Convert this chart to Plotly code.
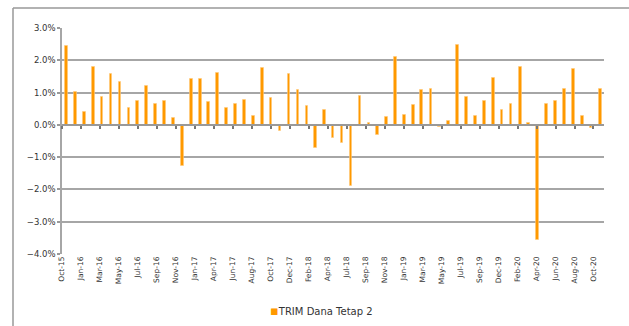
import calendar
import datetime as dt

import plotly.graph_objects as go

# Monthly returns of the fund, Oct-2015 .. Oct-2020 (percent)
series_name = "TRIM Dana Tetap 2"
returns_pct = [
    2.44, 1.02, 0.39, 1.78, 0.86, 1.58, 1.33, 0.51, 0.75, 1.21,
    0.64, 0.74, 0.20, -1.27, 1.43, 1.43, 0.71, 1.62, 0.51, 0.64,
    0.77, 0.26, 1.76, 0.84, -0.18, 1.56, 1.07, 0.57, -0.73, 0.47,
    -0.41, -0.55, -1.89, 0.88, 0.05, -0.30, 0.23, 2.10, 0.31, 0.61,
    1.07, 1.12, -0.08, 0.13, 2.47, 0.86, 0.28, 0.75, 1.44, 0.45,
    0.64, 1.79, 0.05, -3.56, 0.64, 0.75, 1.12, 1.74, 0.26, -0.10,
    1.12,
]

# Category labels shown along the date axis
tick_labels = [
    "Oct-15", "Jan-16", "Mar-16", "May-16", "Jul-16", "Sep-16", "Nov-16",
    "Jan-17", "Apr-17", "Jun-17", "Aug-17", "Oct-17", "Dec-17", "Feb-18",
    "Apr-18", "Jul-18", "Sep-18", "Nov-18", "Jan-19", "Mar-19", "May-19",
    "Jul-19", "Sep-19", "Dec-19", "Feb-20", "Apr-20", "Jun-20", "Aug-20",
    "Oct-20",
]
y_ticks = [-0.04, -0.03, -0.02, -0.01, 0.0, 0.01, 0.02, 0.03]

ORANGE = "#FF9900"
GRID = "#a6a6a6"


def month_end(year, month):
    return dt.date(year, month, calendar.monthrange(year, month)[1])


# month-end observation dates
dates = []
y, m = 2015, 10
for _ in returns_pct:
    dates.append(month_end(y, m))
    m += 1
    if m > 12:
        y, m = y + 1, 1

values = [v / 100.0 for v in returns_pct]

# date axis: ticks every 65 days from the axis origin
axis_start = dates[0] - dt.timedelta(days=16)
axis_end = axis_start + dt.timedelta(days=1856)
tick_dates = [axis_start + dt.timedelta(days=65 * k) for k in range(len(tick_labels))]
x_range = [axis_start.isoformat(), axis_end.isoformat()]
bar_width_ms = 9 * 24 * 3600 * 1000

fig = go.Figure()
fig.add_trace(
    go.Bar(
        x=dates,
        y=values,
        width=bar_width_ms,
        marker=dict(color=ORANGE, line=dict(color="rgba(255,200,120,0.6)", width=1)),
        showlegend=False,
        name=series_name,
    )
)
# helper trace for the labelled bottom axis
fig.add_trace(
    go.Scatter(x=dates, y=[None] * len(dates), xaxis="x2", yaxis="y",
               showlegend=False, hoverinfo="skip", mode="lines")
)

zero_pos = (0 - y_ticks[0]) / (y_ticks[-1] - y_ticks[0])

fig.update_layout(
    width=629,
    height=326,
    margin=dict(l=62, r=25, t=28, b=72, autoexpand=False),
    paper_bgcolor="white",
    plot_bgcolor="white",
    showlegend=False,
    font=dict(family="DejaVu Sans, Verdana, sans-serif", color="#333333"),
    bargap=0,
    xaxis=dict(
        type="date",
        range=x_range,
        anchor="free",
        position=zero_pos,
        showline=True,
        linecolor="#999999",
        linewidth=1.5,
        ticks="outside",
        ticklen=3,
        tickwidth=1.5,
        tickcolor="#777777",
        tickvals=tick_dates,
        showticklabels=False,
        showgrid=False,
        zeroline=False,
    ),
    xaxis2=dict(
        type="date",
        range=x_range,
        overlaying="x",
        anchor="y",
        side="bottom",
        tickvals=tick_dates,
        ticktext=tick_labels,
        tickangle=-90,
        ticks="",
        showline=False,
        showgrid=False,
        zeroline=False,
        tickfont=dict(size=7.5, color="#333333"),
    ),
    yaxis=dict(
        range=[y_ticks[0], y_ticks[-1]],
        tickvals=y_ticks,
        tickformat=".1%",
        showgrid=True,
        gridcolor=GRID,
        gridwidth=1.5,
        showline=True,
        linecolor=GRID,
        linewidth=1.5,
        ticks="outside",
        ticklen=3,
        tickwidth=1.5,
        tickcolor="#999999",
        zeroline=False,
        tickfont=dict(size=8.5, color="#333333"),
    ),
    annotations=[
        # series key below the plot
        dict(
            xref="paper", yref="paper", x=0.38, y=-0.248,
            xanchor="left", yanchor="middle", showarrow=False,
            text=(f'<span style="color:{ORANGE};font-size:13px">▪</span>'
                  f'{series_name}'),
            font=dict(size=10, color="#333333"),
        )
    ],
    shapes=[
        # outer frame (top and left edges)
        dict(type="line", xref="paper", yref="paper", x0=-0.0904, x1=1.06,
             y0=1.0885, y1=1.0885, line=dict(color="#999999", width=1.5)),
        dict(type="line", xref="paper", yref="paper", x0=-0.0904, x1=-0.0904,
             y0=1.0885, y1=-0.4, line=dict(color="#999999", width=1.5)),
    ],
)

fig.write_html("out.html")
